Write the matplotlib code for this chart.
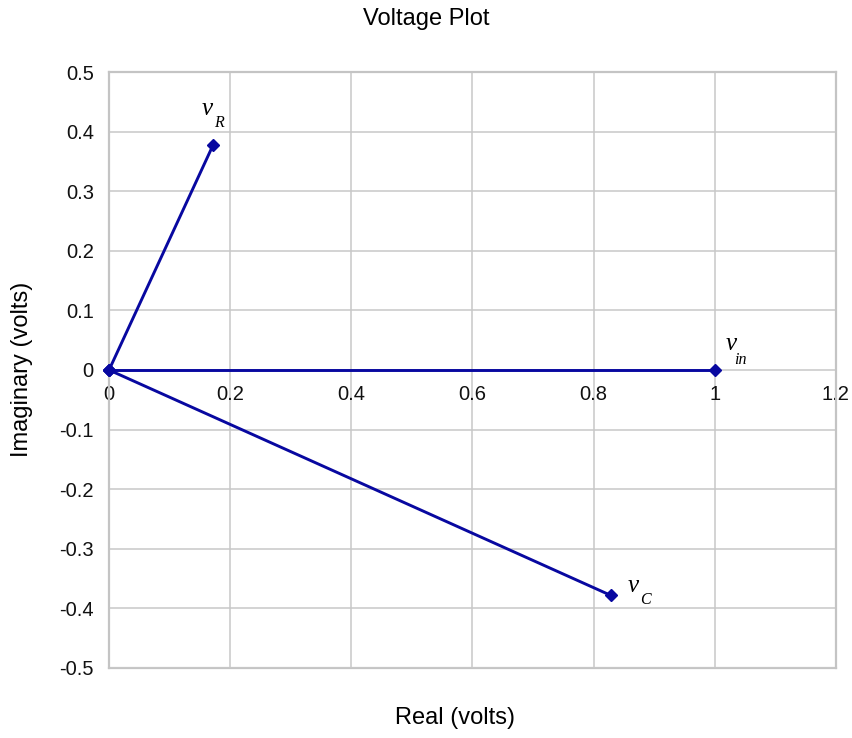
import matplotlib
matplotlib.use("Agg")
import matplotlib.pyplot as plt

# data
names = ["R", "in", "C"]
real_vals = [0.172, 1.0, 0.828]
imag_vals = [0.378, 0.0, -0.378]
x_ticks = [0, 0.2, 0.4, 0.6, 0.8, 1, 1.2]
x_tick_labels = ["0", "0.2", "0.4", "0.6", "0.8", "1", "1.2"]
y_ticks = [-0.5, -0.4, -0.3, -0.2, -0.1, 0, 0.1, 0.2, 0.3, 0.4, 0.5]
y_tick_labels = ["-0.5", "-0.4", "-0.3", "-0.2", "-0.1", "0", "0.1", "0.2", "0.3", "0.4", "0.5"]

plt.rcParams['font.family'] = ['Liberation Sans', 'DejaVu Sans']

fig = plt.figure(figsize=(8.52, 7.38), dpi=100)
ax = fig.add_axes([0.128, 0.0949, 0.853, 0.8075])

color = "#0808a0"
for x, y in zip(real_vals, imag_vals):
    ax.plot([0, x], [0, y], color=color, lw=2.1, marker="D", markersize=6.5,
            zorder=3, clip_on=False)

ax.set_xlim(0, 1.2)
ax.set_ylim(-0.5, 0.5)
ax.set_xticks(x_ticks)
ax.set_xticklabels(x_tick_labels)
ax.set_yticks(y_ticks)
ax.set_yticklabels(y_tick_labels)
ax.grid(True, color="#c8c8c8", lw=1.1)
ax.set_axisbelow(True)
for s in ax.spines.values():
    s.set_color("#c4c4c4")
    s.set_linewidth(1.6)
ax.spines['bottom'].set_position(('data', 0))
ax.spines['bottom'].set_visible(False)
ax.axhline(-0.5, color="#c4c4c4", lw=1.6, clip_on=False, zorder=0)
ax.tick_params(length=0, labelsize=14.5, colors="#111111")
ax.tick_params(axis='x', pad=11)
ax.tick_params(axis='y', pad=11)

# labels near points: (v dx, v dy, sub dx, sub dy) in points
offsets = {"R": (-8, 21.5, 0.8, 13), "in": (8, 14.4, 14, 4), "C": (12, 2, 21.6, -6)}
for n, x, y in zip(names, real_vals, imag_vals):
    vdx, vdy, sdx, sdy = offsets[n]
    ax.annotate("v", (x, y), xytext=(vdx, vdy), textcoords="offset points",
                fontsize=18, family="Liberation Serif", style="italic",
                ha="left", va="baseline", color="#000000")
    ax.annotate(n, (x, y), xytext=(sdx, sdy), textcoords="offset points",
                fontsize=11.5, family="Liberation Serif", style="italic",
                ha="left", va="baseline", color="#000000")

fig.text(0.5, 0.974, "Voltage Plot", ha="center", va="center", fontsize=17)
fig.text(0.534, 0.027, "Real (volts)", ha="center", va="center", fontsize=17)
fig.text(0.026, 0.5, "Imaginary (volts)", ha="center", va="center", fontsize=17,
         rotation=90)

fig.savefig("out.png", dpi=100)
